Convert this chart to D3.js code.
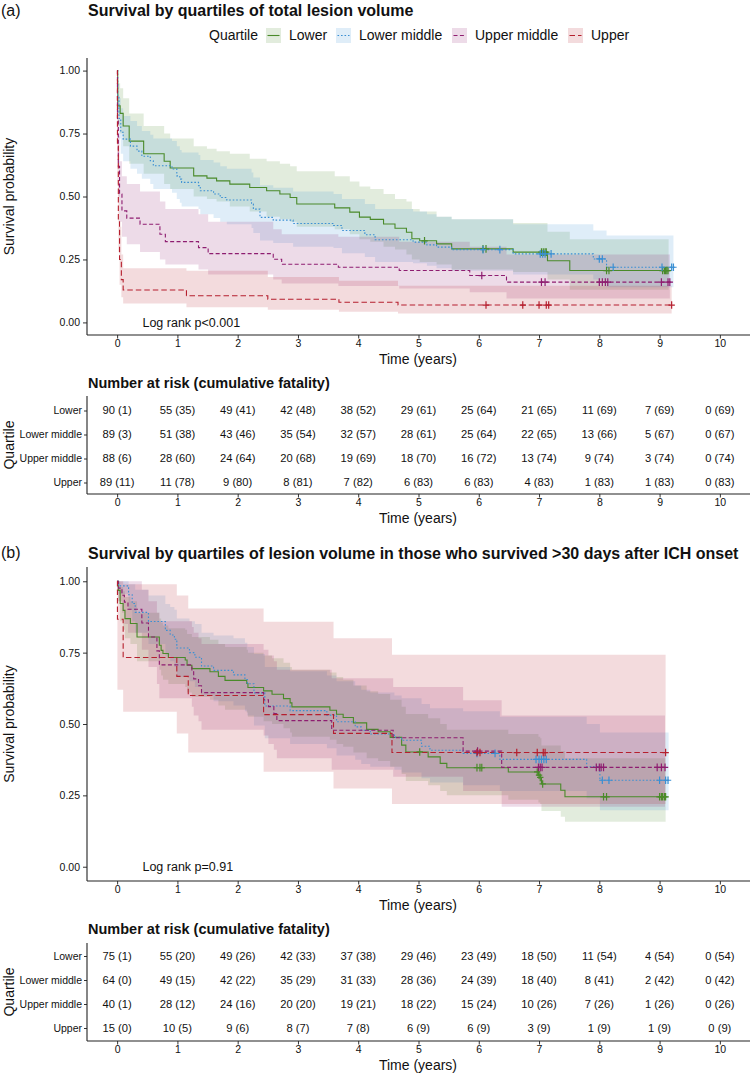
<!DOCTYPE html>
<html><head><meta charset="utf-8">
<script src="https://cdn.jsdelivr.net/npm/d3@7"></script>
<style>body{margin:0;background:#fff} svg{display:block} text{font-family:"Liberation Sans",Arial,Helvetica,sans-serif;fill:#111}</style>
</head><body><svg id="c" width="752" height="1074"></svg>
<script>
// ---------- categories & labels ----------
const quartiles = ["Lower", "Lower middle", "Upper middle", "Upper"];
const timeTicks = [0, 1, 2, 3, 4, 5, 6, 7, 8, 9, 10];
const survTicks = [0, 0.25, 0.5, 0.75, 1];

// ---------- Panel (a): Kaplan-Meier steps ----------
const aLowerT  = [0,0.01,0.05,0.1,0.2,0.44,0.78,0.88,1.27,1.49,1.65,1.87,2.2,2.48,2.7,2.87,2.98,3.61,3.86,4.02,4.2,4.42,4.61,4.8,4.89,5.02,5.3,5.55,6.57,7.14,7.51,9.15];
const aLowerS  = [1,0.86,0.83,0.78,0.72,0.67,0.64,0.613,0.582,0.573,0.562,0.549,0.536,0.523,0.51,0.496,0.47,0.455,0.438,0.418,0.409,0.391,0.374,0.358,0.332,0.324,0.312,0.292,0.279,0.245,0.206,0.206];
const aLowerHi = [1,0.95,0.93,0.89,0.83,0.78,0.75,0.73,0.70,0.69,0.68,0.67,0.65,0.64,0.63,0.62,0.60,0.58,0.56,0.54,0.53,0.51,0.49,0.48,0.45,0.44,0.42,0.41,0.395,0.36,0.33,0.33];
const aLowerLo = [1,0.78,0.75,0.70,0.63,0.59,0.55,0.53,0.50,0.49,0.48,0.46,0.44,0.42,0.41,0.40,0.38,0.37,0.35,0.33,0.32,0.30,0.29,0.27,0.25,0.24,0.23,0.21,0.20,0.17,0.13,0.13];
const aLowerC  = [5.1,6.07,6.12,7.04,7.07,7.1,7.12,8.12,8.16,9.05,9.08,9.1,9.12,9.14];

const aLmT  = [0,0.01,0.03,0.06,0.1,0.22,0.33,0.41,0.55,0.6,0.91,0.99,1.04,1.07,1.35,1.38,1.6,1.71,1.82,2.23,2.26,2.37,2.59,2.92,3.59,3.73,4.11,4.28,4.91,5.14,5.3,5.55,6.57,7.9,8.12,9.23];
const aLmS  = [1,0.9,0.81,0.755,0.728,0.7,0.68,0.66,0.642,0.622,0.609,0.582,0.569,0.556,0.543,0.523,0.51,0.496,0.486,0.47,0.45,0.417,0.406,0.393,0.385,0.365,0.348,0.328,0.319,0.308,0.299,0.289,0.272,0.252,0.219,0.219];
const aLmHi = [1,0.96,0.89,0.85,0.82,0.80,0.78,0.76,0.745,0.73,0.72,0.70,0.685,0.675,0.665,0.645,0.635,0.62,0.61,0.595,0.575,0.545,0.535,0.52,0.51,0.49,0.47,0.45,0.44,0.43,0.42,0.41,0.39,0.365,0.345,0.345];
const aLmLo = [1,0.84,0.73,0.67,0.64,0.61,0.59,0.57,0.55,0.53,0.515,0.49,0.475,0.46,0.45,0.43,0.415,0.40,0.39,0.375,0.355,0.325,0.315,0.30,0.295,0.275,0.26,0.24,0.235,0.225,0.215,0.205,0.19,0.17,0.14,0.14];
const aLmC  = [6.07,6.35,7.02,7.06,7.1,7.2,8.0,8.05,8.23,9.04,9.2,9.23];

const aUmT  = [0,0.005,0.02,0.04,0.08,0.16,0.38,0.71,0.8,1.35,1.51,2.59,2.73,3.67,4.68,5.85,6.46,9.17];
const aUmS  = [1,0.8,0.62,0.51,0.443,0.414,0.39,0.35,0.321,0.297,0.273,0.251,0.231,0.219,0.206,0.186,0.16,0.16];
const aUmHi = [1,0.9,0.74,0.64,0.58,0.55,0.52,0.48,0.45,0.43,0.40,0.37,0.35,0.34,0.32,0.30,0.27,0.27];
const aUmLo = [1,0.7,0.5,0.4,0.34,0.31,0.28,0.25,0.23,0.21,0.19,0.17,0.155,0.145,0.135,0.12,0.095,0.095];
const aUmC  = [6.05,7.04,7.1,8.0,8.05,8.1,8.14,9.03,9.14,9.17];

const aUpT  = [0,0.005,0.02,0.04,0.07,0.1,1.15,2.5,3.68,4.66,9.2];
const aUpS  = [1,0.7,0.4,0.25,0.17,0.129,0.106,0.092,0.08,0.069,0.069];
const aUpHi = [1,0.85,0.55,0.38,0.27,0.215,0.205,0.18,0.165,0.146,0.146];
const aUpLo = [1,0.55,0.28,0.15,0.1,0.075,0.06,0.05,0.042,0.035,0.035];
const aUpC  = [6.12,6.73,7.0,7.12,7.16,9.2];

// ---------- Panel (b): Kaplan-Meier steps ----------
const bLowerT  = [0,0.02,0.05,0.1,0.13,0.22,0.33,0.7,0.73,0.76,0.85,1.13,1.16,1.24,1.54,1.68,1.79,2.15,2.17,2.43,2.57,2.76,2.87,2.9,3.53,3.64,3.75,3.92,4.14,4.33,4.53,4.72,4.79,5.16,5.36,5.47,6.49,6.99,7.02,7.04,7.36,7.43,9.1];
const bLowerS  = [1,0.968,0.922,0.898,0.869,0.852,0.805,0.776,0.758,0.747,0.733,0.724,0.706,0.694,0.683,0.667,0.653,0.642,0.628,0.616,0.604,0.589,0.574,0.56,0.548,0.534,0.523,0.504,0.481,0.473,0.453,0.426,0.402,0.385,0.362,0.347,0.332,0.321,0.313,0.29,0.268,0.245,0.245];
const bLowerHi = [1,1,0.98,0.965,0.945,0.93,0.89,0.87,0.855,0.845,0.835,0.83,0.815,0.805,0.795,0.78,0.77,0.76,0.75,0.74,0.73,0.715,0.70,0.69,0.68,0.665,0.655,0.635,0.615,0.605,0.585,0.56,0.535,0.52,0.50,0.48,0.465,0.455,0.45,0.425,0.405,0.38,0.38];
const bLowerLo = [1,0.93,0.86,0.83,0.80,0.78,0.72,0.69,0.67,0.655,0.64,0.63,0.61,0.595,0.585,0.565,0.55,0.54,0.525,0.51,0.50,0.485,0.47,0.455,0.445,0.43,0.42,0.40,0.38,0.37,0.35,0.325,0.30,0.285,0.265,0.25,0.235,0.225,0.22,0.195,0.175,0.158,0.158];
const bLowerC  = [5.02,5.97,6.02,6.05,6.97,7.0,7.02,7.06,8.07,8.12,9.0,9.03,9.05,9.08,9.1];

const bLmT  = [0,0.02,0.19,0.25,0.3,0.52,0.8,0.88,0.95,0.99,1.2,1.29,1.4,1.6,1.93,2.12,2.16,2.27,2.45,2.87,3.48,3.64,3.95,4.05,4.2,4.6,4.72,5.05,5.19,5.74,6.35,7.79,8.01,9.15];
const bLmS  = [1,0.984,0.953,0.922,0.891,0.859,0.828,0.812,0.797,0.766,0.75,0.734,0.703,0.688,0.672,0.656,0.641,0.609,0.563,0.547,0.531,0.508,0.49,0.478,0.465,0.453,0.443,0.422,0.408,0.397,0.376,0.35,0.303,0.303];
const bLmHi = [1,1,0.99,0.99,0.97,0.95,0.92,0.91,0.90,0.87,0.86,0.85,0.82,0.81,0.80,0.785,0.77,0.745,0.70,0.685,0.67,0.65,0.635,0.62,0.61,0.60,0.59,0.57,0.555,0.545,0.525,0.50,0.47,0.47];
const bLmLo = [1,0.955,0.90,0.86,0.82,0.78,0.74,0.72,0.70,0.665,0.65,0.63,0.60,0.58,0.565,0.545,0.53,0.495,0.45,0.43,0.415,0.39,0.375,0.36,0.35,0.34,0.33,0.31,0.295,0.285,0.265,0.24,0.198,0.198];
const bLmC  = [5.97,6.27,6.95,7.0,7.04,7.08,7.12,8.05,8.16,9.0,9.1,9.14];

const bUmT  = [0,0.02,0.08,0.12,0.18,0.41,0.52,0.66,0.7,1.24,1.27,1.35,1.4,2.43,2.51,2.6,2.65,3.56,4.58,5.74,6.38,9.09];
const bUmS  = [1,0.976,0.951,0.927,0.902,0.854,0.805,0.756,0.707,0.683,0.658,0.634,0.61,0.585,0.561,0.537,0.512,0.478,0.452,0.405,0.348,0.348];
const bUmHi = [1,1,1,1,1,0.97,0.93,0.89,0.86,0.84,0.82,0.80,0.78,0.76,0.74,0.72,0.69,0.66,0.63,0.583,0.53,0.53];
const bUmLo = [1,0.93,0.89,0.85,0.82,0.76,0.70,0.64,0.59,0.56,0.53,0.51,0.48,0.46,0.43,0.41,0.38,0.34,0.315,0.265,0.21,0.21];
const bUmC  = [5.98,6.99,7.02,7.05,7.95,8.0,8.03,8.07,8.96,9.03,9.09];

const bUpT  = [0,0.005,0.1,0.99,1.18,2.43,3.59,4.56,9.1];
const bUpS  = [1,0.867,0.733,0.667,0.6,0.533,0.467,0.4,0.4];
const bUpHi = [1,1,0.99,0.95,0.905,0.858,0.80,0.743,0.743];
const bUpLo = [1,0.62,0.543,0.467,0.40,0.333,0.274,0.22,0.22];
const bUpC  = [5.97,6.02,6.63,6.97,7.07,7.1,9.1];

// ---------- Number at risk (cumulative fatality) ----------
const aRiskLower = [90,55,49,42,38,29,25,21,11,7,0];   const aDeadLower = [1,35,41,48,52,61,64,65,69,69,69];
const aRiskLm    = [89,51,43,35,32,28,25,22,13,5,0];   const aDeadLm    = [3,38,46,54,57,61,64,65,66,67,67];
const aRiskUm    = [88,28,24,20,19,18,16,13,9,3,0];    const aDeadUm    = [6,60,64,68,69,70,72,74,74,74,74];
const aRiskUp    = [89,11,9,8,7,6,6,4,1,1,0];          const aDeadUp    = [11,78,80,81,82,83,83,83,83,83,83];
const bRiskLower = [75,55,49,42,37,29,23,18,11,4,0];   const bDeadLower = [1,20,26,33,38,46,49,50,54,54,54];
const bRiskLm    = [64,49,42,35,31,28,24,18,8,2,0];    const bDeadLm    = [0,15,22,29,33,36,39,40,41,42,42];
const bRiskUm    = [40,28,24,20,19,18,15,10,7,1,0];    const bDeadUm    = [1,12,16,20,21,22,24,26,26,26,26];
const bRiskUp    = [15,10,9,8,7,6,6,3,1,1,0];          const bDeadUp    = [0,5,6,7,8,9,9,9,9,9,9];

// ---------- styles ----------
const lineColors = ["#4a8a2a", "#3a8fd3", "#8e1d70", "#b51f2e"];
const labelColors = ["#4c9a2a", "#3b8fd0", "#9a2a80", "#c0242c"];
const dashes = [null, "1.6,1.9", "4,2.4", "5.5,3"];
const bandOpacity = 0.16;
const FONT = '"Liberation Sans",Arial,sans-serif';

const svg = d3.select("#c");
const x = d3.scaleLinear().domain([-0.5, 10.5]).range([87, 750]);

function buildSeries(T, S, Hi, Lo, C) {
  return { pts: T.map((t, i) => ({ t, s: S[i], hi: Hi[i], lo: Lo[i] })), cens: C };
}
function survAt(pts, c) {
  let v = pts[0].s;
  for (const p of pts) { if (p.t <= c) v = p.s; }
  return v;
}
function styleAxis(a, fs) {
  a.select(".domain").remove();
  a.selectAll("text").attr("font-size", fs).style("font-family", FONT).attr("fill", "#222");
  a.selectAll("line").attr("stroke", "#333");
}
function timeAxis(yPos) {
  const xa = svg.append("g").attr("transform", `translate(0,${yPos})`)
    .call(d3.axisBottom(x).tickValues(timeTicks).tickSize(3.5).tickPadding(1.5));
  styleAxis(xa, 10.5);
  svg.append("line").attr("x1", 87).attr("x2", 750).attr("y1", yPos).attr("y2", yPos).attr("stroke", "#222").attr("stroke-width", 1.1);
  svg.append("text").attr("x", 418).attr("y", yPos + 29).attr("text-anchor", "middle").attr("font-size", 14).text("Time (years)");
}

function drawKM(cfg) {
  const y = d3.scaleLinear().domain([-0.05, 1.05]).range([cfg.bottom, cfg.top]);
  const g = svg.append("g");
  const area = d3.area().curve(d3.curveStepAfter).x(d => x(d.t)).y0(d => y(d.lo)).y1(d => y(d.hi));
  const line = d3.line().curve(d3.curveStepAfter).x(d => x(d.t)).y(d => y(d.s));
  cfg.series.forEach((s, i) => {
    g.append("path").attr("d", area(s.pts)).attr("fill", lineColors[i]).attr("fill-opacity", bandOpacity).attr("stroke", "none");
  });
  cfg.series.forEach((s, i) => {
    g.append("path").attr("d", line(s.pts)).attr("fill", "none").attr("stroke", lineColors[i])
      .attr("stroke-width", 1.1).attr("stroke-dasharray", dashes[i]);
  });
  cfg.series.forEach((s, i) => {
    s.cens.forEach(c => {
      const cx = x(c), cy = y(survAt(s.pts, c));
      g.append("path").attr("d", `M${cx - 3.2},${cy}H${cx + 3.2}M${cx},${cy - 3.8}V${cy + 3.8}`)
        .attr("stroke", lineColors[i]).attr("stroke-width", 1.2).attr("fill", "none");
    });
  });
  const ya = svg.append("g").attr("transform", "translate(87,0)")
    .call(d3.axisLeft(y).tickValues(survTicks).tickFormat(d3.format(".2f")).tickSize(4).tickPadding(3));
  styleAxis(ya, 10.5);
  svg.append("line").attr("x1", 87).attr("x2", 87).attr("y1", cfg.top).attr("y2", cfg.bottom).attr("stroke", "#222").attr("stroke-width", 1.1);
  timeAxis(cfg.bottom);
  svg.append("text").attr("transform", `translate(14,${(y(0) + y(1)) / 2}) rotate(-90)`).attr("text-anchor", "middle")
    .attr("font-size", 14).text("Survival probability");
  svg.append("text").attr("x", x(0.42)).attr("y", y(0)).attr("dy", "0.35em").attr("font-size", 12.5).text(cfg.logrank);
}

function drawTable(cfg) {
  const yr = d3.scalePoint().domain(quartiles).range([cfg.rowTop, cfg.rowBottom]);
  svg.append("text").attr("x", 88).attr("y", cfg.titleY).attr("font-size", 14.5).attr("font-weight", "bold").text("Number at risk (cumulative fatality)");
  cfg.risk.forEach((row, i) => {
    row.forEach((n, j) => {
      svg.append("text").attr("x", x(timeTicks[j])).attr("y", yr(quartiles[i])).attr("dy", "0.35em")
        .attr("text-anchor", "middle").attr("font-size", 11.2).text(`${n} (${cfg.dead[i][j]})`);
    });
  });
  const ya = svg.append("g").attr("transform", "translate(87,0)").call(d3.axisLeft(yr).tickSize(3).tickPadding(2));
  styleAxis(ya, 10.5);
  ya.selectAll("text").attr("fill", (d, i) => labelColors[i]);
  svg.append("line").attr("x1", 87).attr("x2", 87).attr("y1", cfg.top).attr("y2", cfg.axisY).attr("stroke", "#222").attr("stroke-width", 1.1);
  timeAxis(cfg.axisY);
  svg.append("text").attr("transform", `translate(14,${(cfg.top + cfg.axisY) / 2}) rotate(-90)`).attr("text-anchor", "middle")
    .attr("font-size", 14).text("Quartile");
}

// ---------- Panel (a) ----------
svg.append("text").attr("x", 1).attr("y", 16).attr("font-size", 16).text("(a)");
svg.append("text").attr("x", 88).attr("y", 16).attr("font-size", 16).attr("font-weight", "bold").text("Survival by quartiles of total lesion volume");
const leg = svg.append("g");
leg.append("text").attr("x", 209).attr("y", 35).attr("dy", "0.35em").attr("font-size", 14).text("Quartile");
const keyX = [266, 336, 452, 568], labX = [289, 359, 475, 591];
quartiles.forEach((q, i) => {
  leg.append("rect").attr("x", keyX[i]).attr("y", 28).attr("width", 15).attr("height", 15).attr("fill", lineColors[i]).attr("fill-opacity", bandOpacity);
  leg.append("line").attr("x1", keyX[i] + 1.5).attr("x2", keyX[i] + 13.5).attr("y1", 35.5).attr("y2", 35.5)
    .attr("stroke", lineColors[i]).attr("stroke-width", 1.1).attr("stroke-dasharray", dashes[i]);
  leg.append("text").attr("x", labX[i]).attr("y", 35).attr("dy", "0.35em").attr("font-size", 14).text(q);
});

drawKM({
  top: 58, bottom: 335, logrank: "Log rank p<0.001",
  series: [
    buildSeries(aLowerT, aLowerS, aLowerHi, aLowerLo, aLowerC),
    buildSeries(aLmT, aLmS, aLmHi, aLmLo, aLmC),
    buildSeries(aUmT, aUmS, aUmHi, aUmLo, aUmC),
    buildSeries(aUpT, aUpS, aUpHi, aUpLo, aUpC)
  ]
});
drawTable({
  titleY: 388, top: 396, rowTop: 410.5, rowBottom: 482.5, axisY: 494,
  risk: [aRiskLower, aRiskLm, aRiskUm, aRiskUp], dead: [aDeadLower, aDeadLm, aDeadUm, aDeadUp]
});

// ---------- Panel (b) ----------
svg.append("text").attr("x", 1).attr("y", 558).attr("font-size", 16).text("(b)");
svg.append("text").attr("x", 88).attr("y", 559).attr("font-size", 16).attr("font-weight", "bold")
  .text("Survival by quartiles of lesion volume in those who survived >30 days after ICH onset");
drawKM({
  top: 567, bottom: 881, logrank: "Log rank p=0.91",
  series: [
    buildSeries(bLowerT, bLowerS, bLowerHi, bLowerLo, bLowerC),
    buildSeries(bLmT, bLmS, bLmHi, bLmLo, bLmC),
    buildSeries(bUmT, bUmS, bUmHi, bUmLo, bUmC),
    buildSeries(bUpT, bUpS, bUpHi, bUpLo, bUpC)
  ]
});
drawTable({
  titleY: 934, top: 943, rowTop: 956, rowBottom: 1028, axisY: 1041,
  risk: [bRiskLower, bRiskLm, bRiskUm, bRiskUp], dead: [bDeadLower, bDeadLm, bDeadUm, bDeadUp]
});
</script>
</body></html>
